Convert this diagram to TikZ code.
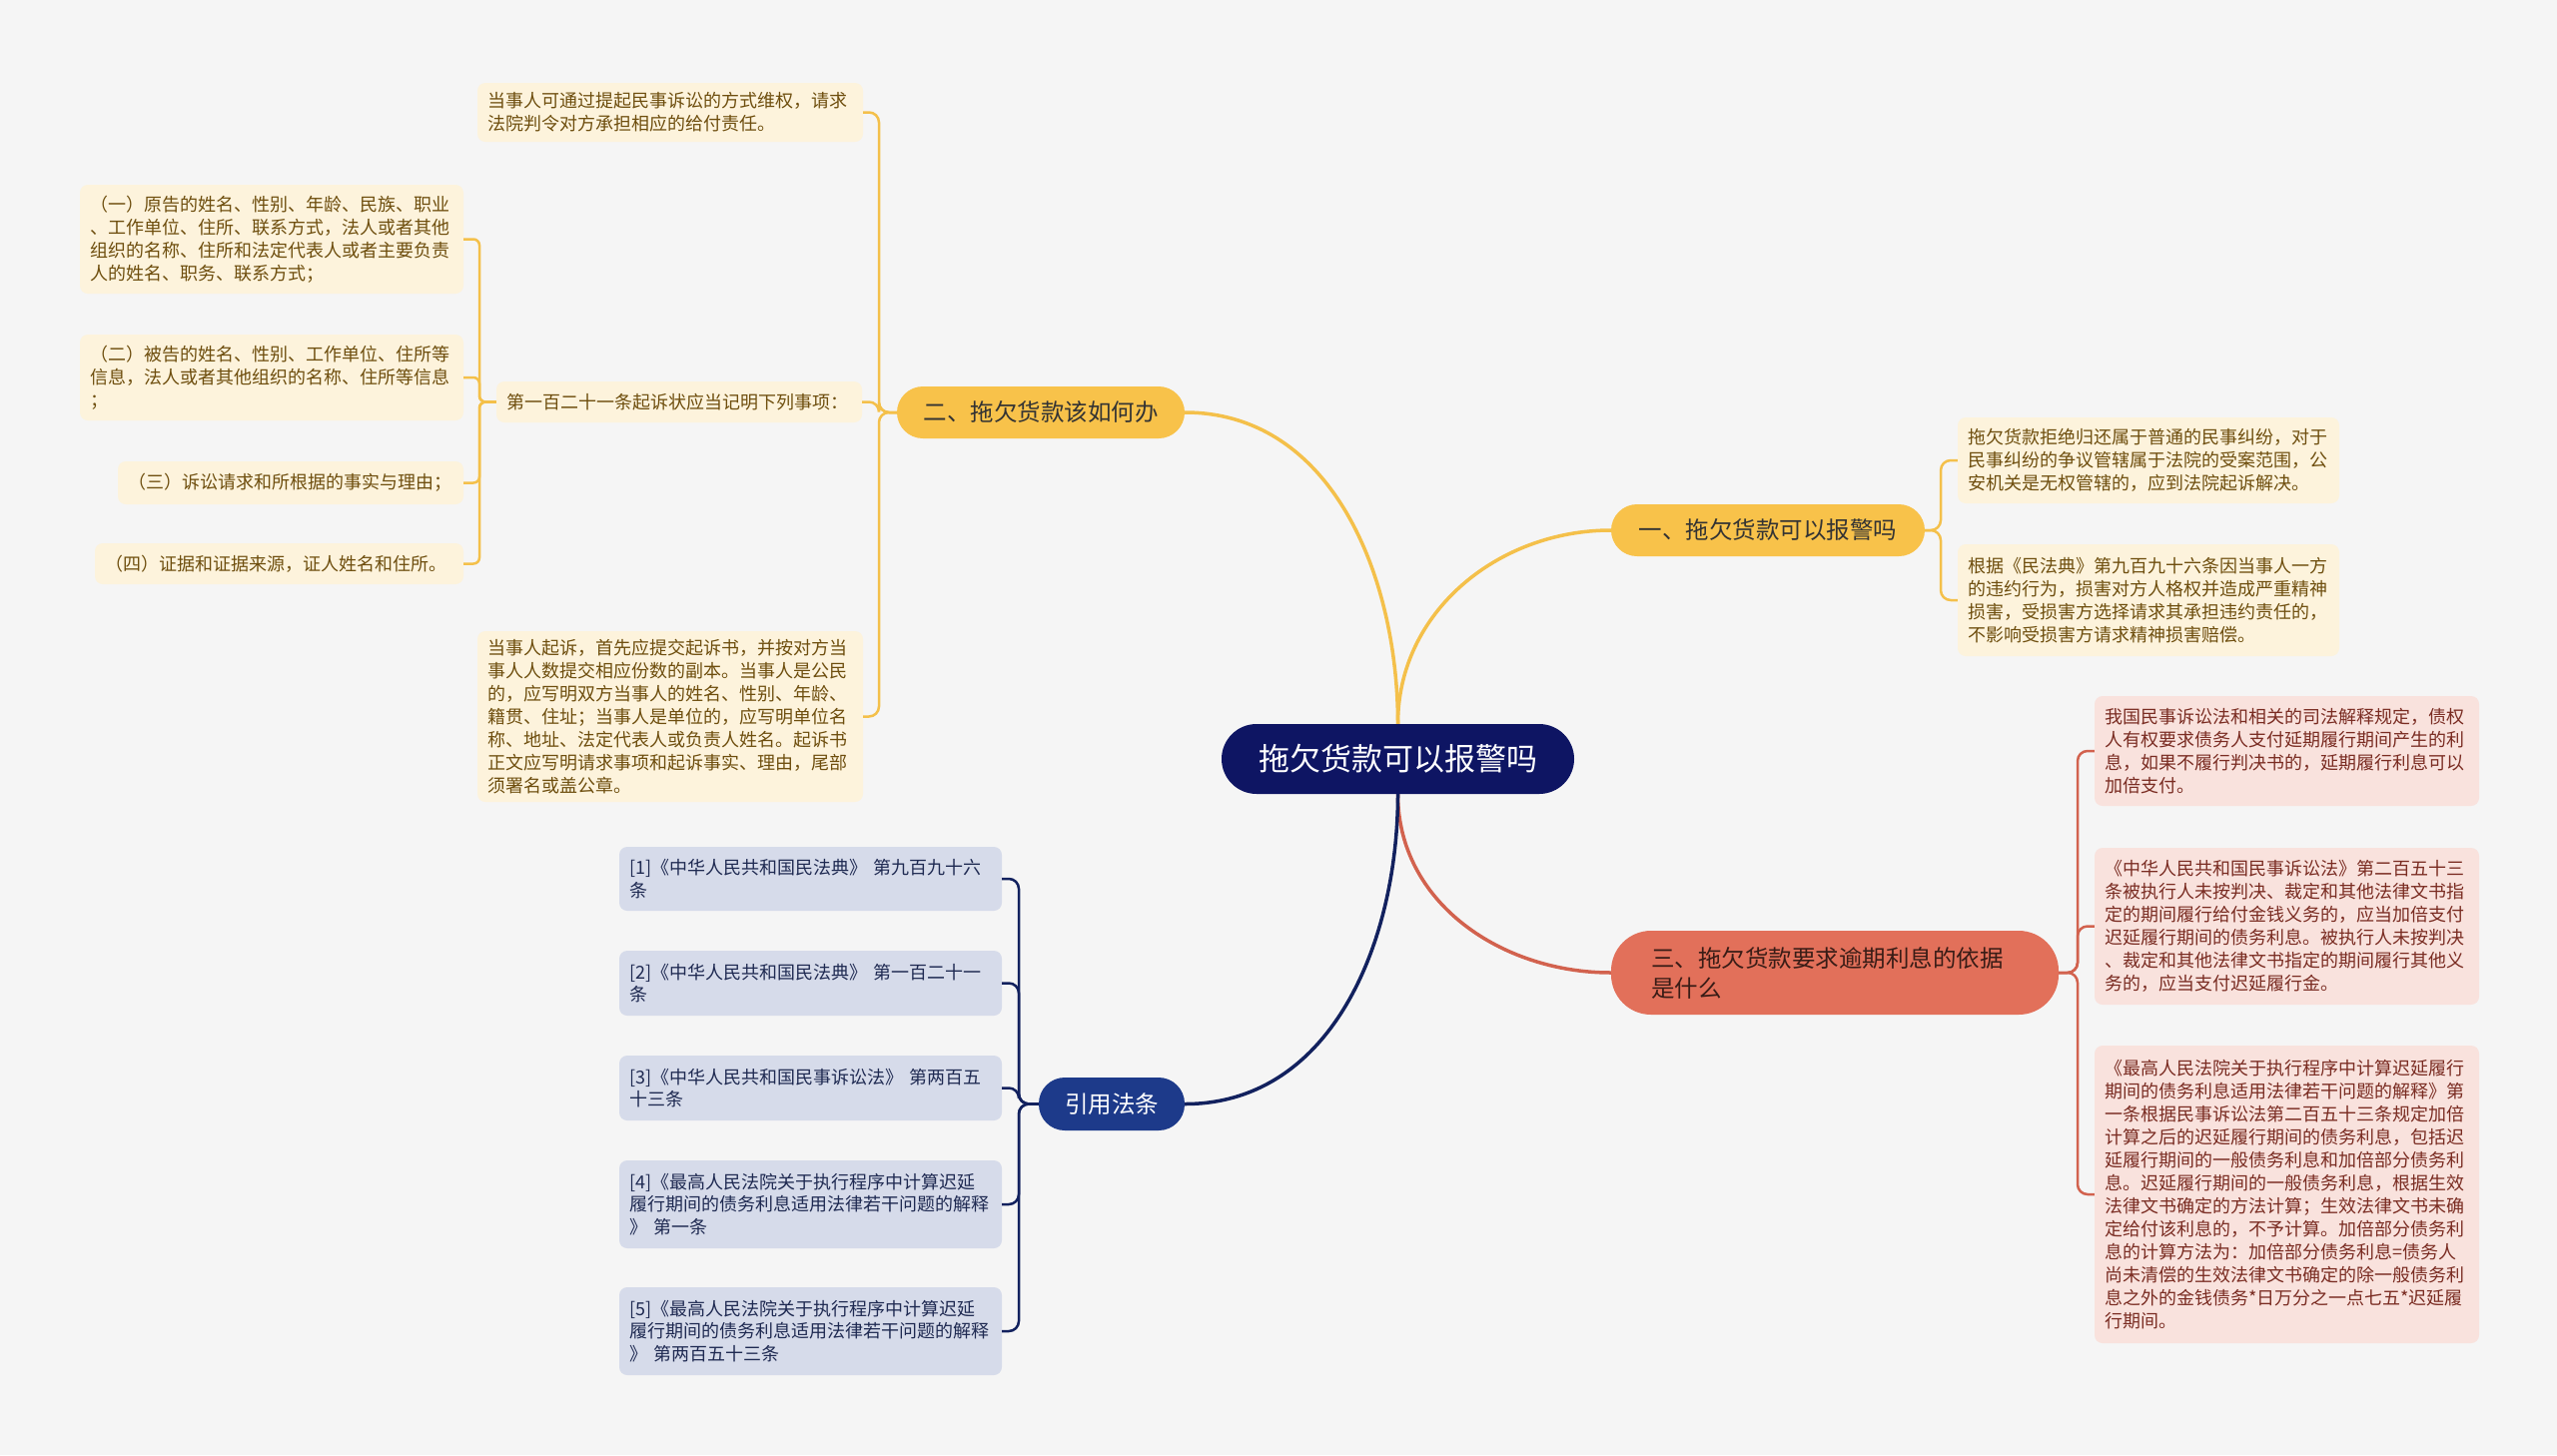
\documentclass[tikz,border=0pt]{standalone}
\usepackage{fontspec}
\newfontfamily\cjk{Noto Sans CJK SC}
\usepackage{tikz}
\usetikzlibrary{positioning}

\definecolor{bgcol}{HTML}{F5F5F5}
\definecolor{rootfill}{HTML}{0E1563}
\definecolor{yelfill}{HTML}{F8C24A}
\definecolor{yelline}{HTML}{F4C04A}
\definecolor{yelleaf}{HTML}{FDF3DC}
\definecolor{yeltext}{HTML}{6E4E0E}
\definecolor{redfill}{HTML}{E2705A}
\definecolor{redline}{HTML}{D2624E}
\definecolor{redleaf}{HTML}{F9E2DD}
\definecolor{redtext}{HTML}{7A2C22}
\definecolor{bluefill}{HTML}{1D3A8A}
\definecolor{blueline}{HTML}{12215E}
\definecolor{blueleaf}{HTML}{D6DBEA}
\definecolor{bluetext}{HTML}{1F2A52}

\begin{document}
\begin{tikzpicture}[
    x=1pt, y=-1pt,
    root/.style={
        fill=rootfill,
        text=white,
        rounded corners=35pt,
        minimum width=353pt,
        minimum height=70pt,
        inner sep=0pt,
        font=\cjk\fontsize{31}{36}\selectfont
    },
    topic/.style={
        rounded corners=26pt,
        minimum height=52pt,
        inner sep=0pt,
        font=\cjk\fontsize{23.5}{30}\selectfont
    },
    leaf/.style={
        rounded corners=8pt,
        align=left,
        inner xsep=10pt,
        inner ysep=0pt,
        font=\cjk\fontsize{18}{23}\selectfont
    },
    yleaf/.style={leaf, fill=yelleaf, text=yeltext},
    rleaf/.style={leaf, fill=redleaf, text=redtext},
    bleaf/.style={leaf, fill=blueleaf, text=bluetext, font=\cjk\fontsize{18}{22.4}\selectfont},
    yline/.style={draw=yelline, line width=2.5pt, rounded corners=10pt},
    rline/.style={draw=redline, line width=2.5pt, rounded corners=10pt},
    bline/.style={draw=blueline, line width=2.5pt, rounded corners=10pt}
    ]
    \fill[bgcol] (0,0) rectangle (2560,1457);
    \useasboundingbox (0,0) rectangle (2560,1457);

    % centre and main topics
    \node[root] (root) at (1399.5,760) {拖欠货款可以报警吗};
    \node[topic, fill=yelfill, text=black!80, minimum width=314pt] (b1) at (1770,531) {一、拖欠货款可以报警吗};
    \node[topic, fill=yelfill, text=black!80, minimum width=288pt] (b2) at (1042,413) {二、拖欠货款该如何办};
    \node[topic, fill=redfill, text=black!75!redfill, align=left, text width=368pt,
        inner xsep=40pt, minimum height=84pt, rounded corners=40pt] (b3) at (1837,974)
        {三、拖欠货款要求逾期利息的依据\\是什么};
    \node[topic, fill=bluefill, text=white, minimum width=146pt, minimum height=53pt] (b4) at (1113,1105.5) {引用法条};

    % branch one
    \node[yleaf, text width=362pt, minimum height=86pt] (l1a) at (2151,461)
        {拖欠货款拒绝归还属于普通的民事纠纷，对于\\民事纠纷的争议管辖属于法院的受案范围，公\\安机关是无权管辖的，应到法院起诉解决。};
    \node[yleaf, text width=362pt, minimum height=112pt] (l1b) at (2151,601)
        {根据《民法典》第九百九十六条因当事人一方\\的违约行为，损害对方人格权并造成严重精神\\损害，受损害方选择请求其承担违约责任的，\\不影响受损害方请求精神损害赔偿。};

    % branch two
    \node[yleaf, text width=366pt, minimum height=59pt] (l2a) at (671,112.5)
        {当事人可通过提起民事诉讼的方式维权，请求\\法院判令对方承担相应的给付责任。};
    \node[yleaf, text width=346pt, minimum height=41pt] (l2b) at (680,402.5)
        {第一百二十一条起诉状应当记明下列事项：};
    \node[yleaf, text width=366pt, minimum height=171pt] (l2c) at (671,717.5)
        {当事人起诉，首先应提交起诉书，并按对方当\\事人人数提交相应份数的副本。当事人是公民\\的，应写明双方当事人的姓名、性别、年龄、\\籍贯、住址；当事人是单位的，应写明单位名\\称、地址、法定代表人或负责人姓名。起诉书\\正文应写明请求事项和起诉事实、理由，尾部\\须署名或盖公章。};
    \node[yleaf, text width=364pt, minimum height=109pt] (item1) at (272,239.5)
        {（一）原告的姓名、性别、年龄、民族、职业\\、工作单位、住所、联系方式，法人或者其他\\组织的名称、住所和法定代表人或者主要负责\\人的姓名、职务、联系方式；};
    \node[yleaf, text width=364pt, minimum height=86pt] (item2) at (272,378)
        {（二）被告的姓名、性别、工作单位、住所等\\信息，法人或者其他组织的名称、住所等信息\\；};
    \node[yleaf, text width=326pt, minimum height=43pt] (item3) at (291,483.5)
        {（三）诉讼请求和所根据的事实与理由；};
    \node[yleaf, text width=349pt, minimum height=41pt] (item4) at (279.5,564.5)
        {（四）证据和证据来源，证人姓名和住所。};

    % branch three
    \node[rleaf, text width=365pt, minimum height=110pt] (l3a) at (2289.5,752)
        {我国民事诉讼法和相关的司法解释规定，债权\\人有权要求债务人支付延期履行期间产生的利\\息，如果不履行判决书的，延期履行利息可以\\加倍支付。};
    \node[rleaf, text width=365pt, minimum height=157pt] (l3b) at (2289.5,927.5)
        {《中华人民共和国民事诉讼法》第二百五十三\\条被执行人未按判决、裁定和其他法律文书指\\定的期间履行给付金钱义务的，应当加倍支付\\迟延履行期间的债务利息。被执行人未按判决\\、裁定和其他法律文书指定的期间履行其他义\\务的，应当支付迟延履行金。};
    \node[rleaf, text width=365pt, minimum height=298pt] (l3c) at (2289.5,1196)
        {《最高人民法院关于执行程序中计算迟延履行\\期间的债务利息适用法律若干问题的解释》第\\一条根据民事诉讼法第二百五十三条规定加倍\\计算之后的迟延履行期间的债务利息，包括迟\\延履行期间的一般债务利息和加倍部分债务利\\息。迟延履行期间的一般债务利息，根据生效\\法律文书确定的方法计算；生效法律文书未确\\定给付该利息的，不予计算。加倍部分债务利\\息的计算方法为：加倍部分债务利息=债务人\\尚未清偿的生效法律文书确定的除一般债务利\\息之外的金钱债务*日万分之一点七五*迟延履\\行期间。};

    % branch four
    \node[bleaf, text width=363pt, minimum height=64pt] (law1) at (811.5,880)
        {[1]《中华人民共和国民法典》 第九百九十六\\条};
    \node[bleaf, text width=363pt, minimum height=65pt] (law2) at (811.5,984.5)
        {[2]《中华人民共和国民法典》 第一百二十一\\条};
    \node[bleaf, text width=363pt, minimum height=65pt] (law3) at (811.5,1089.5)
        {[3]《中华人民共和国民事诉讼法》 第两百五\\十三条};
    \node[bleaf, text width=363pt, minimum height=88pt] (law4) at (811.5,1206)
        {[4]《最高人民法院关于执行程序中计算迟延\\履行期间的债务利息适用法律若干问题的解释\\》 第一条};
    \node[bleaf, text width=363pt, minimum height=88pt] (law5) at (811.5,1333)
        {[5]《最高人民法院关于执行程序中计算迟延\\履行期间的债务利息适用法律若干问题的解释\\》 第两百五十三条};

    % spines
    \coordinate (s1) at (1943,0);
    \coordinate (s2) at (880,0);
    \coordinate (s2b) at (480,0);
    \coordinate (s3) at (2080,0);
    \coordinate (s4) at (1020,0);

    % connectors from the centre
    \draw[yline, line width=3.5pt] (root.north) to[out=90, in=180] (b1.west);
    \draw[yline, line width=3.5pt] (root.north) to[out=90, in=0] (b2.east);
    \draw[rline, line width=3.5pt] (root.south) to[out=-90, in=180] (b3.west);
    \draw[bline, line width=3.5pt] (root.south) to[out=-90, in=0] (b4.east);

    % connectors to the leaves
    \draw[yline] (b1.east) -- (b1.east -| s1) |- (l1a.west);
    \draw[yline] (b1.east) -- (b1.east -| s1) |- (l1b.west);
    \draw[yline] (b2.west) -- (b2.west -| s2) |- (l2a.east);
    \draw[yline] (b2.west) -- (b2.west -| s2) |- (l2b.east);
    \draw[yline] (b2.west) -- (b2.west -| s2) |- (l2c.east);
    \draw[yline, rounded corners=6pt] (l2b.west) -- (l2b.west -| s2b) |- (item1.east);
    \draw[yline, rounded corners=6pt] (l2b.west) -- (l2b.west -| s2b) |- (item2.east);
    \draw[yline, rounded corners=6pt] (l2b.west) -- (l2b.west -| s2b) |- (item3.east);
    \draw[yline, rounded corners=6pt] (l2b.west) -- (l2b.west -| s2b) |- (item4.east);
    \draw[rline] (b3.east) -- (b3.east -| s3) |- (l3a.west);
    \draw[rline] (b3.east) -- (b3.east -| s3) |- (l3b.west);
    \draw[rline] (b3.east) -- (b3.east -| s3) |- (l3c.west);
    \draw[bline] (b4.west) -- (b4.west -| s4) |- (law1.east);
    \draw[bline] (b4.west) -- (b4.west -| s4) |- (law2.east);
    \draw[bline] (b4.west) -- (b4.west -| s4) |- (law3.east);
    \draw[bline] (b4.west) -- (b4.west -| s4) |- (law4.east);
    \draw[bline] (b4.west) -- (b4.west -| s4) |- (law5.east);
\end{tikzpicture}
\end{document}
